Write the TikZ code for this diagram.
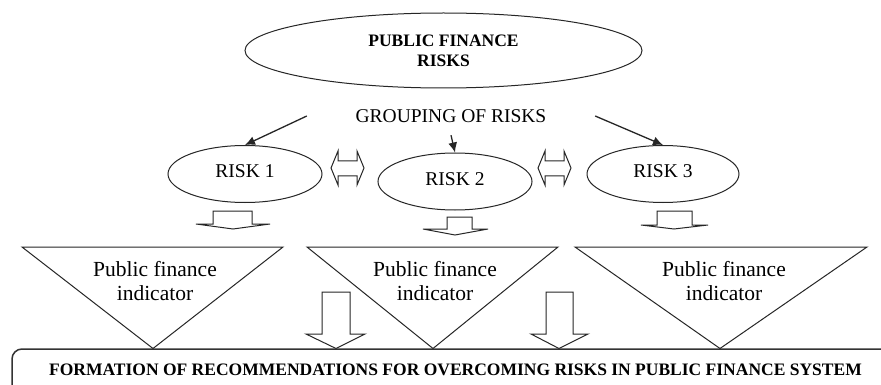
\documentclass[tikz,border=0pt]{standalone}
\usepackage{fontspec}
\setmainfont{Liberation Serif}
\usetikzlibrary{shapes.geometric,arrows.meta}
\tikzset{
  lin/.style={draw=black!85, line width=1pt},
  oval/.style={ellipse, lin, inner sep=0pt},
  conn/.style={draw=black!85, line width=1.3pt, -{Latex[length=10pt,width=9pt]}},
  hollow/.style={lin, fill=white, line join=miter},
  regtext/.style={font=\fontsize{19.5}{21}\selectfont},
  boldtext/.style={font=\fontsize{17.5}{20}\selectfont\bfseries},
  indtext/.style={font=\fontsize{21.5}{24}\selectfont, align=center, inner sep=0pt},
}
\begin{document}
\begin{tikzpicture}[x=1pt,y=-1pt]
\useasboundingbox (0,0) rectangle (881,385);
\clip (0,0) rectangle (881,385);
\fill[white] (0,0) rectangle (881,385);

% top ellipse
\node[oval, minimum width=397pt, minimum height=75pt, boldtext, align=center] (top) at (443.5,50.5) {PUBLIC FINANCE\\RISKS};

% grouping
\node[minimum width=288pt, minimum height=38pt, inner sep=0pt, regtext] (grp) at (451,116) {GROUPING OF RISKS};

% risk ellipses
\node[oval, minimum width=154pt, minimum height=57pt, regtext, text height=13pt, text depth=5pt] (r1) at (245,174) {RISK 1};
\node[oval, minimum width=154pt, minimum height=57pt, regtext, text height=13pt, text depth=5pt] (r2) at (455,181.5) {RISK 2};
\node[oval, minimum width=152pt, minimum height=57pt, regtext, text height=13pt, text depth=5pt] (r3) at (663,174) {RISK 3};

% connectors
\draw[conn] (grp.west) -- (r1.north);
\draw[conn] (grp.south) -- (r2.north);
\draw[conn] (grp.east) -- (r3.north);

% double hollow arrows
\draw[hollow] (331,168) -- (338,151) -- (338,161) -- (357,161) -- (357,151) -- (364,168)
  -- (357,185) -- (357,176) -- (338,176) -- (338,185) -- cycle;
\draw[hollow] (538,168) -- (545,151) -- (545,161) -- (564,161) -- (564,151) -- (571,168)
  -- (564,185) -- (564,176) -- (545,176) -- (545,185) -- cycle;

% down block arrows under risks
\draw[hollow] (213,211) -- (213,224) -- (196,224) -- (233,229) -- (270,224) -- (252,224) -- (252,211) -- cycle;
\draw[hollow] (447,217) -- (447,229) -- (423,229) -- (455,235) -- (488,229) -- (472,229) -- (472,217) -- cycle;
\draw[hollow] (657,211) -- (657,225) -- (641,225) -- (674,229) -- (708,225) -- (692,225) -- (692,211) -- cycle;

% bottom box
\draw[draw=black!80, line width=1.5pt, rounded corners=10pt] (900,349) -- (12,349) -- (12,400);

% triangles
\draw[lin, line join=miter] (22,247) -- (283,247) -- (153,348.5) -- cycle;
\draw[lin, line join=miter] (307,247) -- (558,247) -- (433,348.5) -- cycle;
\draw[lin, line join=miter] (575,247) -- (867,247) -- (720,348.5) -- cycle;

\node[indtext] (t1) at (155,281) {Public finance\\indicator};
\node[indtext] (t2) at (435,281) {Public finance\\indicator};
\node[indtext] (t3) at (724,281) {Public finance\\indicator};

% lower down block arrows
\draw[hollow] (322,292) -- (322,334) -- (306,334) -- (336,348.5) -- (365,334) -- (350,334) -- (350,292) -- cycle;
\draw[hollow] (546,292) -- (546,334) -- (531,334) -- (559,348.5) -- (588,334) -- (573,334) -- (573,292) -- cycle;

% bottom text
\node[boldtext, anchor=base, inner sep=0pt] (rec) at (455.5,375) {FORMATION OF RECOMMENDATIONS FOR OVERCOMING RISKS IN PUBLIC FINANCE SYSTEM};
\end{tikzpicture}
\end{document}
